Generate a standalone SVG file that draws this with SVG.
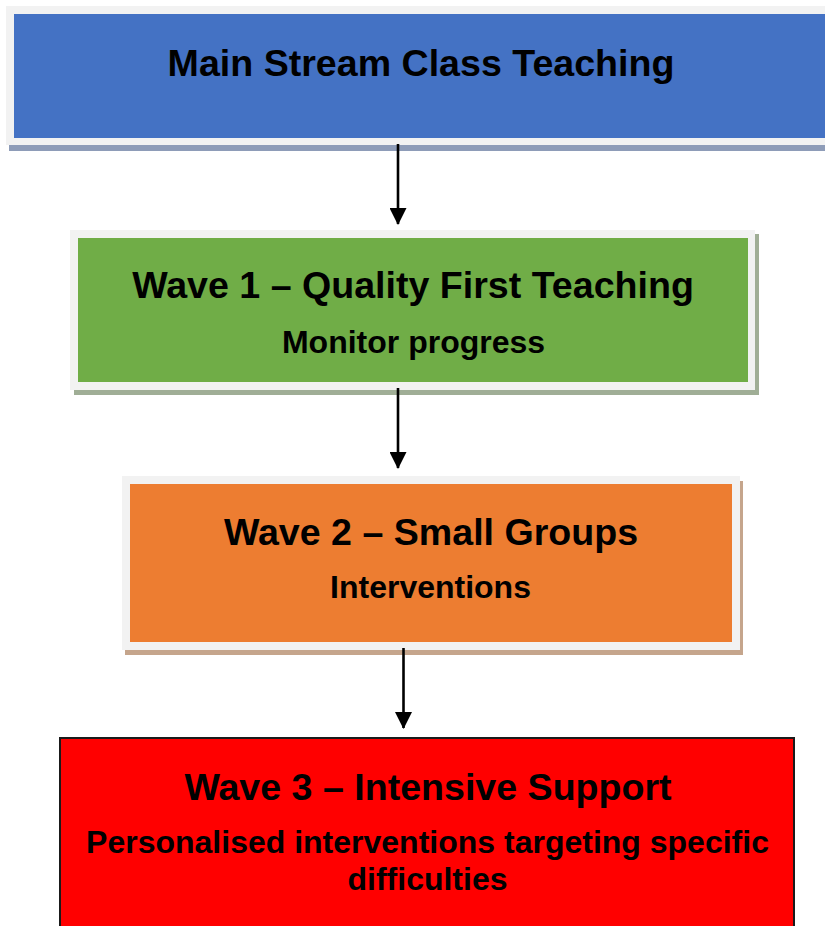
<svg xmlns="http://www.w3.org/2000/svg" width="825" height="926" viewBox="0 0 825 926">
<style>
.frame{fill:#F2F2F2}
.t1{font-family:"Liberation Sans",Arial,sans-serif;font-weight:bold;font-size:37.6px;fill:#000;text-anchor:middle}
.t2{font-family:"Liberation Sans",Arial,sans-serif;font-weight:bold;font-size:32px;fill:#000;text-anchor:middle}
.conn{stroke:#000;stroke-width:2.6;fill:none}
</style>
<defs>
<marker id="ah" markerUnits="userSpaceOnUse" markerWidth="17" markerHeight="17" refX="16" refY="8.5" orient="auto">
<path d="M0,0 L17,8.5 L0,17 Z" fill="#000"/>
</marker>
</defs>
<rect width="825" height="926" fill="#fff"/>
<g id="main">
<rect x="9" y="10" width="830" height="141" fill="#8E9CB8"/>
<rect class="frame" x="6" y="6" width="830" height="139"/>
<rect x="14" y="14" width="830" height="124" fill="#4472C4"/>
<text class="t1" x="421" y="76">Main Stream Class Teaching</text>
</g>
<g id="wave1">
<rect x="74" y="234" width="685" height="161" fill="#A0AE96"/>
<rect class="frame" x="70" y="230" width="685" height="160"/>
<rect x="78" y="238" width="670" height="144" fill="#70AD47"/>
<text class="t1" x="413" y="298">Wave 1 – Quality First Teaching</text>
<text class="t2" x="413.5" y="353">Monitor progress</text>
</g>
<g id="wave2">
<rect x="125" y="481" width="618" height="174" fill="#C5A58C"/>
<rect class="frame" x="122" y="476" width="618" height="174"/>
<rect x="130" y="484" width="602" height="158" fill="#ED7D31"/>
<text class="t1" x="431" y="545">Wave 2 – Small Groups</text>
<text class="t2" x="430.5" y="598">Interventions</text>
</g>
<g id="wave3">
<rect x="60" y="738" width="734" height="200" fill="#FF0000" stroke="#1a1a1a" stroke-width="2"/>
<text class="t1" x="428" y="800">Wave 3 – Intensive Support</text>
<text class="t2" x="427.5" y="853">Personalised interventions targeting specific</text>
<text class="t2" x="427.5" y="890">difficulties</text>
</g>
<g id="connectors">
<line class="conn" x1="398" y1="144" x2="398" y2="224" marker-end="url(#ah)"/>
<line class="conn" x1="398" y1="388" x2="398" y2="468" marker-end="url(#ah)"/>
<line class="conn" x1="403.5" y1="648" x2="403.5" y2="728" marker-end="url(#ah)"/>
</g>
</svg>
